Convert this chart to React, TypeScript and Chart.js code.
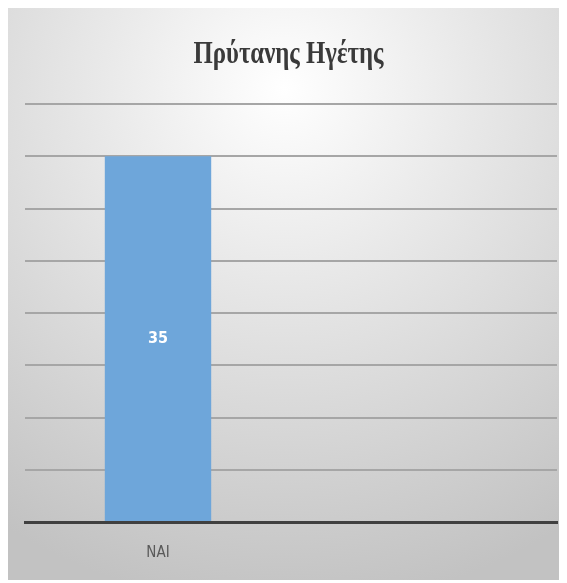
import React, { useEffect, useRef } from "react";
import { Chart, registerables } from "chart.js";

Chart.register(...registerables);

const categories: string[] = ["ΝΑΙ", ""];
const values: (number | null)[] = [35, null];
const chartTitle = "Πρύτανης Ηγέτης";
const yMax = 40;
const yStep = 5;

const bgPlugin = {
  id: "bgPlugin",
  beforeDraw(chart: any) {
    const { ctx, width, height } = chart;
    ctx.save();
    const g = ctx.createRadialGradient(width / 2, 80, 0, width / 2, 80, 520);
    g.addColorStop(0, "#ffffff");
    g.addColorStop(0.35, "#e9e9e9");
    g.addColorStop(1, "#c2c2c2");
    ctx.fillStyle = g;
    ctx.fillRect(0, 0, width, height);
    ctx.restore();
  },
};

const titlePlugin = {
  id: "titlePlugin",
  afterDraw(chart: any) {
    const { ctx, width } = chart;
    ctx.save();
    ctx.fillStyle = "#3a3a3a";
    ctx.font = "bold 31px 'Liberation Serif', serif";
    ctx.textAlign = "center";
    ctx.textBaseline = "alphabetic";
    ctx.translate(width / 2 + 4, 55);
    ctx.scale(0.8, 1);
    ctx.fillText(chartTitle, 0, 0);
    ctx.restore();
  },
};

const labelPlugin = {
  id: "labelPlugin",
  afterDatasetsDraw(chart: any) {
    const { ctx } = chart;
    const meta = chart.getDatasetMeta(0);
    ctx.save();
    ctx.fillStyle = "#ffffff";
    ctx.font = "bold 16px 'Liberation Sans Narrow', 'DejaVu Sans Condensed', sans-serif";
    ctx.textAlign = "center";
    ctx.textBaseline = "middle";
    meta.data.forEach((el: any, i: number) => {
      const v = values[i];
      if (v == null) return;
      const y = (el.y + el.base) / 2;
      ctx.fillText(String(v), el.x, y);
    });
    ctx.restore();
  },
};

export default function App() {
  const ref = useRef<HTMLCanvasElement | null>(null);
  useEffect(() => {
    document.body.style.overflow = "hidden";
    if (!ref.current) return;
    const chart = new Chart(ref.current, {
      type: "bar",
      data: {
        labels: categories,
        datasets: [
          {
            data: values,
            backgroundColor: "#6ea6da",
            borderWidth: 0,
            barPercentage: 0.4,
            categoryPercentage: 1,
          },
        ],
      },
      options: {
        animation: false,
        responsive: true,
        maintainAspectRatio: false,
        layout: { padding: { left: 17, right: 4, top: 96, bottom: 0 } },
        plugins: {
          legend: { display: false },
          tooltip: { enabled: false },
          title: { display: false },
        },
        scales: {
          x: {
            grid: { display: false, drawTicks: false },
            border: { display: true, color: "#404040", width: 3 },
            ticks: {
              color: "#595959",
              padding: 22,
              font: { family: "'Liberation Sans Narrow', 'DejaVu Sans Condensed', sans-serif", size: 15 },
            },
            afterFit(scale: any) {
              scale.height = 58;
            },
          },
          y: {
            min: 0,
            max: yMax,
            ticks: { display: false, stepSize: yStep },
            grid: { color: "#a6a6a6", lineWidth: 2, drawTicks: false },
            border: { display: false },
            afterFit(scale: any) {
              scale.width = 0;
            },
          },
        },
      },
      plugins: [bgPlugin, labelPlugin, titlePlugin],
    });
    return () => chart.destroy();
  }, []);
  return (
    <div style={{ width: 553, height: 572 }}>
      <canvas ref={ref} aria-label={chartTitle} />
    </div>
  );
}
